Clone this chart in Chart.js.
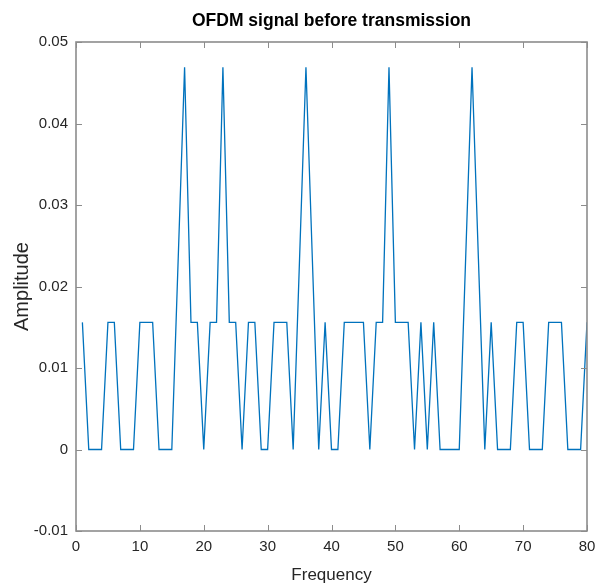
<!DOCTYPE html>
<html>
<head>
<meta charset="utf-8">
<title>OFDM signal before transmission</title>
<script src="https://cdn.jsdelivr.net/npm/chart.js@4.4.1/dist/chart.umd.min.js"></script>
<style>
  html, body { margin: 0; padding: 0; background: #fff; }
  #wrap { width: 597px; height: 584px; }
</style>
</head>
<body>
<div id="wrap"><canvas id="ofdm" width="597" height="584"></canvas></div>
<script>
// Valeurs (indice de fréquence 1..80)
const frequency = [
   1,  2,  3,  4,  5,  6,  7,  8,  9, 10,
  11, 12, 13, 14, 15, 16, 17, 18, 19, 20,
  21, 22, 23, 24, 25, 26, 27, 28, 29, 30,
  31, 32, 33, 34, 35, 36, 37, 38, 39, 40,
  41, 42, 43, 44, 45, 46, 47, 48, 49, 50,
  51, 52, 53, 54, 55, 56, 57, 58, 59, 60,
  61, 62, 63, 64, 65, 66, 67, 68, 69, 70,
  71, 72, 73, 74, 75, 76, 77, 78, 79, 80,
];
const amplitude = [
  0.0156, 0,      0,      0,      0.0156, 0.0156, 0,      0,      0,      0.0156,
  0.0156, 0.0156, 0,      0,      0,      0.0234, 0.0469, 0.0156, 0.0156, 0,
  0.0156, 0.0156, 0.0469, 0.0156, 0.0156, 0,      0.0156, 0.0156, 0,      0,
  0.0156, 0.0156, 0.0156, 0,      0.0234, 0.0469, 0.0234, 0,      0.0156, 0,
  0,      0.0156, 0.0156, 0.0156, 0.0156, 0,      0.0156, 0.0156, 0.0469, 0.0156,
  0.0156, 0.0156, 0,      0.0156, 0,      0.0156, 0,      0,      0,      0,
  0.0234, 0.0469, 0.0234, 0,      0.0156, 0,      0,      0,      0.0156, 0.0156,
  0,      0,      0,      0.0156, 0.0156, 0.0156, 0,      0,      0,      0.0156,
];
const xTicks = [0, 10, 20, 30, 40, 50, 60, 70, 80];
const xTickLabels = ['0', '10', '20', '30', '40', '50', '60', '70', '80'];
const yTicks = [-0.01, 0, 0.01, 0.02, 0.03, 0.04, 0.05];
const yTickLabels = ['-0.01', '0', '0.01', '0.02', '0.03', '0.04', '0.05'];

const LINE_BLUE  = '#0072BD';
const AXIS_GRAY  = '#8c8c8c';
const TEXT_DARK  = '#262626';
const FONT       = "'Liberation Sans', Arial, Helvetica, sans-serif";
const TICK_LEN   = 6;

// Cadre complet + graduations vers l'intérieur (style MATLAB)
const boxPlugin = {
  id: 'matlabBox',
  afterDatasetsDraw(chart) {
    const { ctx, chartArea: a, scales: { x, y } } = chart;
    ctx.save();
    ctx.strokeStyle = AXIS_GRAY;
    ctx.lineWidth = 1;
    ctx.beginPath();
    x.ticks.forEach((t) => {
      const px = Math.round(x.getPixelForValue(t.value)) + 0.5;
      ctx.moveTo(px, a.bottom); ctx.lineTo(px, a.bottom - TICK_LEN);
      ctx.moveTo(px, a.top);    ctx.lineTo(px, a.top + TICK_LEN);
    });
    y.ticks.forEach((t) => {
      const py = Math.round(y.getPixelForValue(t.value)) + 0.5;
      ctx.moveTo(a.left, py);  ctx.lineTo(a.left + TICK_LEN, py);
      ctx.moveTo(a.right, py); ctx.lineTo(a.right - TICK_LEN, py);
    });
    ctx.stroke();
    ctx.lineWidth = 1.6;
    ctx.strokeRect(a.left, a.top, a.right - a.left, a.bottom - a.top);
    ctx.restore();
  },
};

const points = frequency.map((f, i) => ({ x: f, y: amplitude[i] }));

new Chart(document.getElementById('ofdm').getContext('2d'), {
  type: 'line',
  data: {
    datasets: [{
      data: points,
      borderColor: LINE_BLUE,
      borderWidth: 1.3,
      pointRadius: 0,
      tension: 0,
      fill: false,
    }],
  },
  options: {
    responsive: false,
    animation: false,
    devicePixelRatio: 1,
    layout: { padding: { left: 0, right: 10, top: 0, bottom: 0 } },
    plugins: {
      legend: { display: false },
      tooltip: { enabled: false },
      title: {
        display: true,
        fullSize: false,
        text: 'OFDM signal before transmission',
        color: '#000',
        font: { family: FONT, size: 17.5, weight: 'bold', lineHeight: 1 },
        padding: { top: 12, bottom: 12.5 },
      },
    },
    scales: {
      x: {
        type: 'linear',
        min: 0,
        max: 80,
        afterBuildTicks: (scale) => { scale.ticks = xTicks.map((v) => ({ value: v })); },
        afterFit: (scale) => { scale.height = 53; scale.paddingLeft = 0; scale.paddingRight = 0; },
        grid: { display: false, drawTicks: false },
        border: { display: false },
        ticks: {
          color: TEXT_DARK,
          font: { family: FONT, size: 15 },
          padding: 7,
          maxRotation: 0,
          autoSkip: false,
          callback: (v, i) => xTickLabels[i],
        },
        title: {
          display: true,
          text: 'Frequency',
          color: TEXT_DARK,
          font: { family: FONT, size: 17, lineHeight: 1 },
          padding: { top: 0, bottom: 0.5 },
        },
      },
      y: {
        type: 'linear',
        min: -0.01,
        max: 0.05,
        afterBuildTicks: (scale) => { scale.ticks = yTicks.map((v) => ({ value: v })); },
        afterFit: (scale) => { scale.width = 76; scale.paddingTop = 0; scale.paddingBottom = 0; },
        grid: { display: false, drawTicks: false },
        border: { display: false },
        ticks: {
          color: TEXT_DARK,
          font: { family: FONT, size: 15 },
          padding: 8,
          autoSkip: false,
          callback: (v, i) => yTickLabels[i],
        },
        title: {
          display: true,
          text: 'Amplitude',
          color: TEXT_DARK,
          font: { family: FONT, size: 20, lineHeight: 1 },
          padding: { top: 12.5, bottom: 0 },
        },
      },
    },
  },
  plugins: [boxPlugin],
});
</script>
</body>
</html>
